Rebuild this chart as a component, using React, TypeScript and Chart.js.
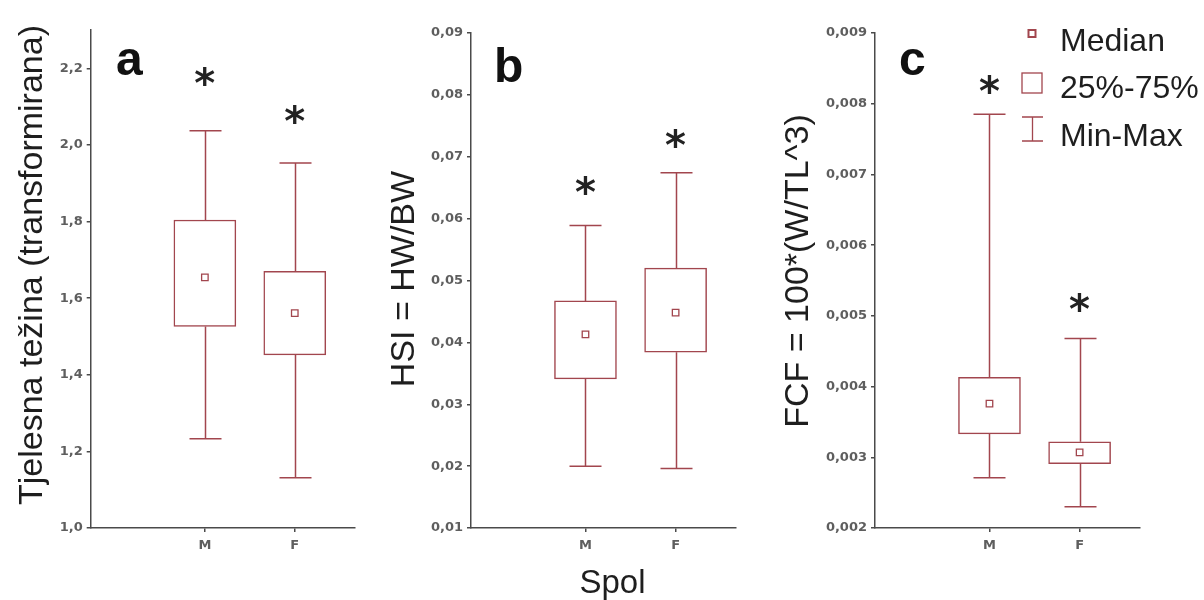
import React, { useEffect, useRef } from 'react';
import { Chart, registerables } from 'chart.js';

Chart.register(...registerables);

// ---------- data ----------
const categories = ['M', 'F'];
const categoryPositions = [1, 2];

// panel a: Tjelesna težina (transformirana)
const aTicks = [1.0, 1.2, 1.4, 1.6, 1.8, 2.0, 2.2];
const aMin = [1.233, 1.131];
const aQ1 = [1.526, 1.452];
const aMedian = [1.654, 1.561];
const aQ3 = [1.804, 1.67];
const aMax = [2.037, 1.953];
const aStar = [2.18, 2.08];

// panel b: HSI = HW/BW
const bTicks = [0.01, 0.02, 0.03, 0.04, 0.05, 0.06, 0.07, 0.08, 0.09];
const bMin = [0.02, 0.0196];
const bQ1 = [0.0341, 0.0384];
const bMedian = [0.0413, 0.0448];
const bQ3 = [0.0467, 0.052];
const bMax = [0.0589, 0.0674];
const bStar = [0.0655, 0.073];

// panel c: FCF = 100*(W/TL^3)
const cTicks = [0.002, 0.003, 0.004, 0.005, 0.006, 0.007, 0.008, 0.009];
const cMin = [0.00271, 0.0023];
const cQ1 = [0.00333, 0.00291];
const cMedian = [0.00376, 0.00307];
const cQ3 = [0.00413, 0.00322];
const cMax = [0.00785, 0.00468];
const cStar = [0.00828, 0.0052];

const legendLabels = ['Median', '25%-75%', 'Min-Max'];

// ---------- style ----------
const BOX = '#a2464e';
const AXIS = '#4a4a4a';
const TICK_TXT = '#5e5e5e';
const FONT = "'Liberation Sans', Arial, sans-serif";
const TICK_FONT = "'DejaVu Sans', Verdana, sans-serif";

type PanelDef = {
  left: number;
  width: number;
  plotLeft: number;
  plotRight: number;
  plotTop: number;
  plotBottom: number;
  yMin: number;
  yMax: number;
  ticks: number[];
  decimals: number;
  lo: number[];
  q1: number[];
  med: number[];
  q3: number[];
  hi: number[];
  star: number[];
  title: string;
  titleX: number;
  titleY: number;
  letter: string;
  letterX: number;
  letterY: number;
  xTitle?: string;
  legend?: boolean;
};

const panels: PanelDef[] = [
  {
    left: 0, width: 380, plotLeft: 90.7, plotRight: 355, plotTop: 30, plotBottom: 528,
    yMin: 1.0, yMax: 2.3, ticks: aTicks, decimals: 1,
    lo: aMin, q1: aQ1, med: aMedian, q3: aQ3, hi: aMax, star: aStar,
    title: 'Tjelesna težina (transformirana)', titleX: 33, titleY: 265,
    letter: 'a', letterX: 116, letterY: 75,
  },
  {
    left: 380, width: 390, plotLeft: 471, plotRight: 736, plotTop: 33, plotBottom: 528,
    yMin: 0.01, yMax: 0.09, ticks: bTicks, decimals: 2,
    lo: bMin, q1: bQ1, med: bMedian, q3: bQ3, hi: bMax, star: bStar,
    title: 'HSI = HW/BW', titleX: 405, titleY: 279,
    letter: 'b', letterX: 494, letterY: 82,
    xTitle: 'Spol',
  },
  {
    left: 770, width: 434, plotLeft: 875, plotRight: 1140, plotTop: 33, plotBottom: 528,
    yMin: 0.002, yMax: 0.009, ticks: cTicks, decimals: 3,
    lo: cMin, q1: cQ1, med: cMedian, q3: cQ3, hi: cMax, star: cStar,
    title: 'FCF = 100*(W/TL^3)', titleX: 799, titleY: 271,
    letter: 'c', letterX: 899, letterY: 75,
    legend: true,
  },
];

function makePlugin(p: PanelDef) {
  return {
    id: 'boxExtras',
    beforeDatasetsDraw(chart: any) {
      const { ctx } = chart;
      const xs = chart.scales.x;
      const ys = chart.scales.y;
      ctx.save();
      ctx.strokeStyle = BOX;
      ctx.lineWidth = 1.5;
      categoryPositions.forEach((pos, i) => {
        const px = Math.round(xs.getPixelForValue(pos)) + 0.5;
        const yHi = ys.getPixelForValue(p.hi[i]);
        const yQ3 = ys.getPixelForValue(p.q3[i]);
        const yQ1 = ys.getPixelForValue(p.q1[i]);
        const yLo = ys.getPixelForValue(p.lo[i]);
        ctx.beginPath();
        ctx.moveTo(px, yHi);
        ctx.lineTo(px, yQ3);
        ctx.moveTo(px, yQ1);
        ctx.lineTo(px, yLo);
        ctx.moveTo(px - 16, yHi);
        ctx.lineTo(px + 16, yHi);
        ctx.moveTo(px - 16, yLo);
        ctx.lineTo(px + 16, yLo);
        ctx.stroke();
      });
      ctx.restore();
    },
    afterDraw(chart: any) {
      const { ctx } = chart;
      const xs = chart.scales.x;
      const ys = chart.scales.y;
      const L = p.left;
      ctx.save();

      // y-axis title (rotated)
      ctx.fillStyle = '#1e1e1e';
      ctx.font = `34px ${FONT}`;
      ctx.textAlign = 'center';
      ctx.textBaseline = 'middle';
      ctx.save();
      ctx.translate(p.titleX - L, p.titleY);
      ctx.rotate(-Math.PI / 2);
      ctx.fillText(p.title, 0, 0);
      ctx.restore();

      // x-axis title
      if (p.xTitle) {
        ctx.font = `33px ${FONT}`;
        ctx.fillText(p.xTitle, (chart.chartArea.left + chart.chartArea.right) / 2 + 9, 584);
      }

      // panel letter
      ctx.fillStyle = '#111';
      ctx.font = `bold 48px ${FONT}`;
      ctx.textAlign = 'left';
      ctx.textBaseline = 'alphabetic';
      ctx.fillText(p.letter, p.letterX - L, p.letterY);

      // significance asterisks
      ctx.font = `bold 40px 'DejaVu Sans', sans-serif`;
      ctx.fillStyle = '#222';
      categoryPositions.forEach((pos, i) => {
        const px = xs.getPixelForValue(pos);
        const py = ys.getPixelForValue(p.star[i]);
        const m = ctx.measureText('*');
        const asc = m.actualBoundingBoxAscent;
        const desc = m.actualBoundingBoxDescent;
        const w = m.actualBoundingBoxLeft + m.actualBoundingBoxRight;
        ctx.fillText('*', px - w / 2 + m.actualBoundingBoxLeft, py + (asc - desc) / 2);
      });

      // legend
      if (p.legend) {
        const mx = 1032 - L;
        ctx.strokeStyle = BOX;
        // median marker
        ctx.lineWidth = 2;
        ctx.fillStyle = '#fff';
        ctx.fillRect(mx - 3.5, 30, 7, 7);
        ctx.strokeRect(mx - 3.5, 30, 7, 7);
        // box marker
        ctx.lineWidth = 1.3;
        ctx.strokeRect(mx - 10, 73, 20, 20);
        // whisker marker
        ctx.beginPath();
        ctx.moveTo(mx + 0.5, 117);
        ctx.lineTo(mx + 0.5, 141);
        ctx.moveTo(mx - 10, 117);
        ctx.lineTo(mx + 11, 117);
        ctx.moveTo(mx - 10, 141);
        ctx.lineTo(mx + 11, 141);
        ctx.stroke();

        ctx.fillStyle = '#1e1e1e';
        ctx.font = `32px ${FONT}`;
        ctx.textBaseline = 'middle';
        const ys2 = [42, 89, 137];
        legendLabels.forEach((t, i) => ctx.fillText(t, 1060 - L, ys2[i]));
      }
      ctx.restore();
    },
  };
}

function PanelChart({ p }: { p: PanelDef }) {
  const ref = useRef<HTMLCanvasElement | null>(null);
  useEffect(() => {
    if (!ref.current) return;
    const chart = new Chart(ref.current, {
      type: 'bar',
      data: {
        datasets: [
          {
            type: 'bar',
            data: categoryPositions.map((x, i) => ({ x, y: [p.q1[i], p.q3[i]] })) as any,
            backgroundColor: '#ffffff',
            borderColor: BOX,
            borderWidth: 1.5,
            borderSkipped: false,
            barThickness: 62,
            order: 2,
          } as any,
          {
            type: 'scatter',
            data: categoryPositions.map((x, i) => ({ x, y: p.med[i] })),
            pointStyle: 'rect',
            radius: 4.6,
            borderColor: BOX,
            backgroundColor: '#ffffff',
            borderWidth: 1.3,
            order: 1,
          } as any,
        ],
      },
      options: {
        animation: false,
        responsive: false,
        maintainAspectRatio: false,
        events: [],
        layout: {
          padding: {
            left: 0,
            top: p.plotTop,
            right: p.left + p.width - p.plotRight,
            bottom: 0,
          },
        },
        plugins: {
          legend: { display: false },
          tooltip: { enabled: false },
        },
        scales: {
          x: {
            type: 'linear',
            offset: false,
            min: -0.27,
            max: 2.67,
            grid: { offset: false, drawOnChartArea: false, drawTicks: true, tickLength: 4, color: AXIS, lineWidth: 1.5 },
            border: { display: true, color: AXIS, width: 1.5 },
            afterBuildTicks: (s: any) => {
              s.ticks = categoryPositions.map((v) => ({ value: v }));
            },
            afterFit: (s: any) => {
              s.height = 600 - p.plotBottom;
            },
            ticks: {
              autoSkip: false,
              maxRotation: 0,
              padding: 6,
              color: TICK_TXT,
              font: { family: TICK_FONT, size: 13, weight: 'bold' },
              callback: (v: any) => {
                const i = categoryPositions.indexOf(Number(v));
                return i >= 0 ? categories[i] : '';
              },
            },
          },
          y: {
            type: 'linear',
            min: p.yMin,
            max: p.yMax,
            grid: { drawOnChartArea: false, drawTicks: true, tickLength: 4, color: AXIS, lineWidth: 1.5 },
            border: { display: true, color: AXIS, width: 1.5 },
            afterBuildTicks: (s: any) => {
              s.ticks = p.ticks.map((v) => ({ value: v }));
            },
            afterFit: (s: any) => {
              s.width = p.plotLeft - p.left;
            },
            ticks: {
              autoSkip: false,
              padding: 4,
              color: TICK_TXT,
              font: { family: TICK_FONT, size: 13, weight: 'bold' },
              callback: (v: any) => Number(v).toFixed(p.decimals).replace('.', ','),
            },
          },
        },
      } as any,
      plugins: [makePlugin(p)],
    });
    return () => chart.destroy();
  }, [p]);
  return (
    <canvas
      ref={ref}
      width={p.width}
      height={600}
      style={{ position: 'absolute', left: p.left, top: 0, width: p.width, height: 600 }}
    />
  );
}

export default function App() {
  return (
    <div style={{ position: 'absolute', left: 0, top: 0, width: 1204, height: 600, background: '#fff' }}>
      {panels.map((p, i) => (
        <PanelChart key={i} p={p} />
      ))}
    </div>
  );
}
